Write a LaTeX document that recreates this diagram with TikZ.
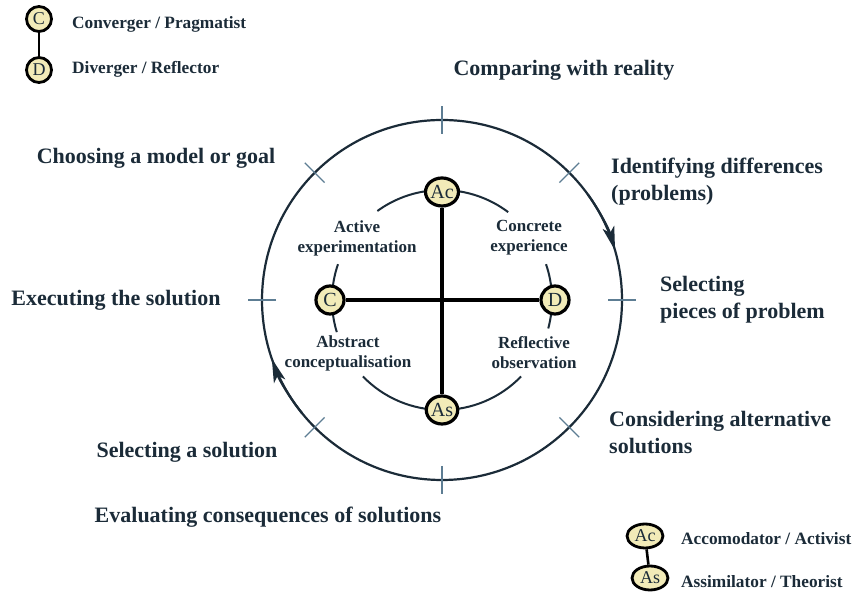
\documentclass[tikz,border=0pt]{standalone}
\usepackage{fontspec}
\setmainfont{Liberation Serif}
\usetikzlibrary{arrows.meta,shapes.geometric,calc,backgrounds}

\definecolor{ink}{HTML}{1B2B38}
\definecolor{tickblue}{HTML}{5D7D93}
\definecolor{nodefill}{HTML}{F2EBB8}

\tikzset{
  x=1pt, y=1pt,
  label big/.style={font=\fontsize{22}{27}\selectfont\bfseries, text=ink, align=left, inner sep=0pt},
  label small/.style={font=\fontsize{17}{20}\selectfont\bfseries, text=ink, align=center, inner sep=0pt},
  legend text/.style={font=\fontsize{17.3}{20}\selectfont\bfseries, text=ink, anchor=west, inner sep=0pt},
  stage/.style={ellipse, draw=black, line width=3.2pt, fill=nodefill, text=ink,
    font=\fontsize{20}{20}\selectfont, inner sep=0pt, minimum width=28pt, minimum height=28pt},
  legend stage/.style={stage, line width=2.8pt, font=\fontsize{18}{18}\selectfont, minimum width=25pt, minimum height=25pt},
  ring/.style={draw=ink, line width=2.2pt},
  inner ring/.style={draw=ink, line width=2pt},
  axis/.style={draw=black, line width=3.4pt},
  tickmark/.style={draw=tickblue, line width=1.3pt},
  flow/.style={draw=ink, line width=2.2pt, -{Stealth[length=24pt,width=12pt,inset=6pt]}},
}

\begin{document}
\begin{tikzpicture}
\useasboundingbox (0,0) rectangle (856,596);

\coordinate (o) at (442,296);

% outer cycle with its eight tick marks
\draw[ring] (o) circle[radius=180];
\foreach \a in {0,45,...,315}
  \draw[tickmark] ($(o)+(\a:166)$) -- ($(o)+(\a:194)$);

% clockwise direction arrows on the outer cycle
\draw[flow] ($(o)+(36:180)$) arc[start angle=36, end angle=16, radius=180];
\draw[flow] ($(o)+(219:180)$) arc[start angle=219, end angle=199, radius=180];

% inner learning cycle arcs
\draw[inner ring] ($(o)+(90:110)$) arc[start angle=90, end angle=126, radius=110];
\draw[inner ring] ($(o)+(161:110)$) arc[start angle=161, end angle=197, radius=110];
\draw[inner ring] ($(o)+(224:110)$) arc[start angle=224, end angle=270, radius=110];
\draw[inner ring] ($(o)+(90:110)$) arc[start angle=90, end angle=53, radius=110];
\draw[inner ring] ($(o)+(19:110)$) arc[start angle=19, end angle=-15, radius=110];
\draw[inner ring] ($(o)+(-44:110)$) arc[start angle=-44, end angle=-90, radius=110];

% learning style poles and their axes
\node[stage] (ac) at (442,404) {Ac};
\node[stage] (as) at (442,186) {As};
\node[stage] (c) at (330,296) {C};
\node[stage] (d) at (555,296) {D};
\begin{scope}[on background layer]
  \draw[axis] (ac) -- (as);
  \draw[axis] (c) -- (d);
\end{scope}

% inner quadrant labels
\node[label small] (ae) at (357,358) {Active\\experimentation};
\node[label small] (ce) at (529,358) {Concrete\\experience};
\node[label small] (ab) at (348,243) {Abstract\\conceptualisation};
\node[label small] (ro) at (534,243) {Reflective\\observation};

% problem solving stages around the cycle
\node[label big] (cmp) at (564,526) {Comparing with reality};
\node[label big, anchor=west] (idf) at (611,414) {Identifying differences\\(problems)};
\node[label big, anchor=west] (sel) at (660,296) {Selecting\\pieces of problem};
\node[label big, anchor=west] (alt) at (609,163) {Considering alternative\\solutions};
\node[label big] (eva) at (268,79) {Evaluating consequences of solutions};
\node[label big] (sol) at (187,144) {Selecting a solution};
\node[label big] (exe) at (116,296) {Executing the solution};
\node[label big] (cho) at (156,438) {Choosing a model or goal};

% legends
\node[legend stage] (lc) at (39,577) {C};
\node[legend stage] (ld) at (39,526) {D};
\begin{scope}[on background layer]
  \draw[draw=black, line width=2.6pt] (lc) -- (ld);
\end{scope}
\node[legend text] (lct) at (72,572) {Converger / Pragmatist};
\node[legend text] (ldt) at (72,527) {Diverger / Reflector};

\node[legend stage, minimum width=36pt, minimum height=24pt] (lac) at (645,60) {Ac};
\node[legend stage, minimum width=36pt, minimum height=24pt] (las) at (650,18) {As};
\begin{scope}[on background layer]
  \draw[draw=black, line width=2.6pt] (lac) -- (las);
\end{scope}
\node[legend text] (lact) at (681,57) {Accomodator / Activist};
\node[legend text] (last) at (681,14) {Assimilator / Theorist};
\end{tikzpicture}
\end{document}
